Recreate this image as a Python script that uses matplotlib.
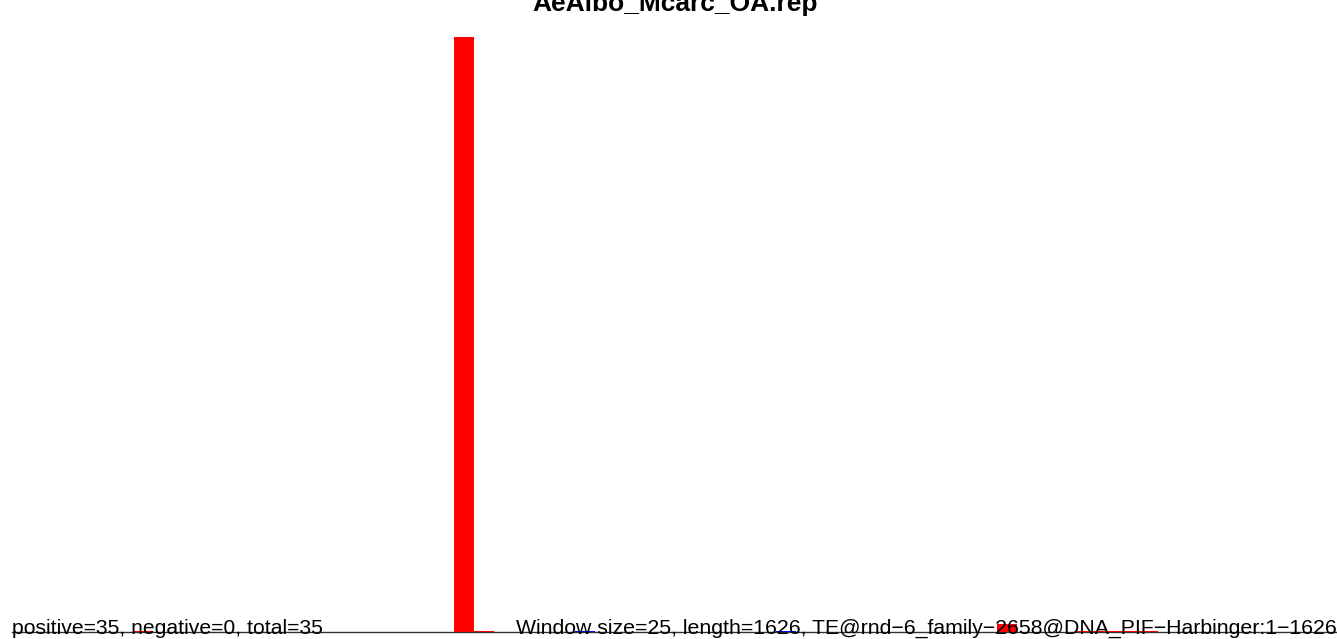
import matplotlib.pyplot as plt

# chart data
title = "AeAlbo_Mcarc_OA.rep"
n_windows = 66
pos_windows = [6, 22, 23, 49, 53, 54, 55, 56]
pos_values = [0.07, 35, 0.07, 0.45, 0.07, 0.07, 0.07, 0.07]
neg_windows = [28, 38]
neg_values = [0.07, 0.07]
left_note = "positive=35, negative=0, total=35"
right_note = "Window size=25, length=1626, TE@rnd\u22126_family\u22122658@DNA_PIF\u2212Harbinger:1\u22121626"

W, H = 1337, 639
fig = plt.figure(figsize=(W / 100, H / 100), dpi=100)
plt.rcParams["font.family"] = ["Liberation Sans", "DejaVu Sans"]

px_per_win = 20.1
x0 = 12
ax = fig.add_axes([x0 / W, (H - 632) / H, n_windows * px_per_win / W, 595 / H])
# baseline under the bars
ax.axhline(0, color="#333333", lw=1, zorder=1, clip_on=False)
ax.bar(pos_windows, pos_values, width=1, align="edge", color="#ff0000",
       edgecolor="none", linewidth=0, zorder=2, clip_on=False)
ax.bar(neg_windows, neg_values, width=1, align="edge", color="#0000ff",
       edgecolor="none", linewidth=0, zorder=2, clip_on=False)
ax.set_xlim(0, n_windows)
ax.set_ylim(0, 35)
ax.axis("off")

fig.text(x0 / W, (H - 634) / H, left_note, fontsize=15.2, va="baseline", ha="left")
fig.text(516 / W, (H - 634) / H, right_note, fontsize=15.3, va="baseline", ha="left")
fig.text(675 / W, (H - 11) / H, title, fontsize=19, fontweight="bold", va="baseline", ha="center")

fig.savefig("out.png", dpi=100)
